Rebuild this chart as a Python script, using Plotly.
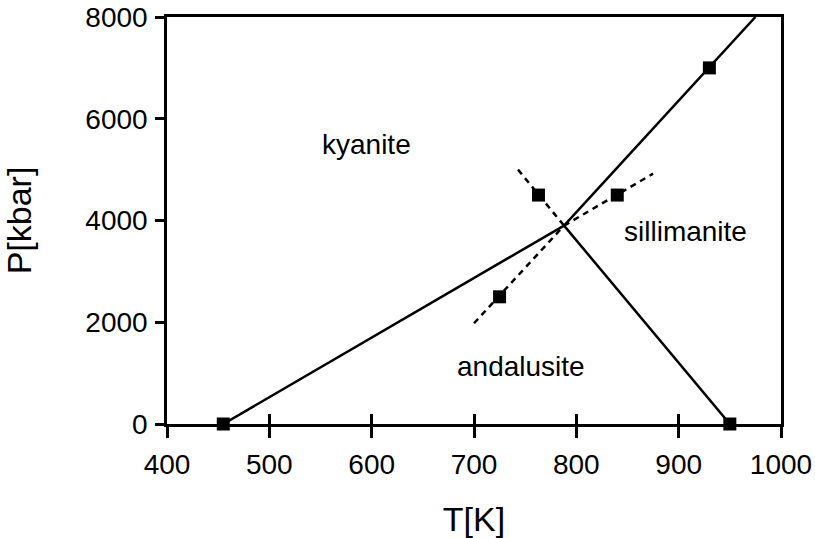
import plotly.graph_objects as go

# Data (T in K, P in kbar)
triple_T, triple_P = 788, 3900
ky_and_T = [455, triple_T]
ky_and_P = [0, triple_P]
and_sil_T = [triple_T, 950]
and_sil_P = [triple_P, 0]
ky_sil_T = [triple_T, 975]
ky_sil_P = [triple_P, 8000]

meta_ky_sil_T = [700, triple_T]
meta_ky_sil_P = [1980, triple_P]
meta_ky_and_T = [triple_T, 875]
meta_ky_and_P = [triple_P, 4920]
meta_and_sil_T = [743, triple_T]
meta_and_sil_P = [5000, triple_P]

pts_T = [455, 950, 930, 725, 763, 840]
pts_P = [0, 0, 7000, 2500, 4500, 4500]

labels = ["kyanite", "sillimanite", "andalusite"]
label_T = [595, 907, 746]
label_P = [5500, 3790, 1130]

x_ticks = [400, 500, 600, 700, 800, 900, 1000]
y_ticks = [0, 2000, 4000, 6000, 8000]

FONT = "Liberation Sans, Arial, sans-serif"
FS = 28
LW = 2.5

fig = go.Figure()
solid = dict(color="black", width=LW)
dashed = dict(color="black", width=LW, dash="6px,5px")
for xs, ys in [(ky_and_T, ky_and_P), (and_sil_T, and_sil_P), (ky_sil_T, ky_sil_P)]:
    fig.add_trace(go.Scatter(x=xs, y=ys, mode="lines", line=solid, showlegend=False, hoverinfo="skip"))
for xs, ys in [(meta_ky_sil_T, meta_ky_sil_P), (meta_ky_and_T, meta_ky_and_P), (meta_and_sil_T, meta_and_sil_P)]:
    fig.add_trace(go.Scatter(x=xs, y=ys, mode="lines", line=dashed, showlegend=False, hoverinfo="skip"))
fig.add_trace(go.Scatter(x=pts_T, y=pts_P, mode="markers", cliponaxis=False,
                         marker=dict(symbol="square", size=13, color="black"), showlegend=False))
# invisible trace on overlay axis for inside ticks
fig.add_trace(go.Scatter(x=[400, 1000], y=[0, 0], xaxis="x2", mode="markers",
                         marker=dict(opacity=0), showlegend=False, hoverinfo="skip"))

for t, x, y in zip(labels, label_T, label_P):
    fig.add_annotation(x=x, y=y, text=t, showarrow=False, xanchor="center", yanchor="middle",
                       font=dict(family=FONT, size=FS, color="black"))

fig.update_layout(
    width=815, height=538,
    margin=dict(l=167, r=34, t=17, b=114),
    plot_bgcolor="white", paper_bgcolor="white",
    font=dict(family=FONT, size=FS, color="black"),
    xaxis=dict(range=[400, 1000], tickvals=x_ticks, ticks="outside", ticklen=11, tickwidth=LW,
               tickcolor="black", showline=True, linewidth=LW, linecolor="black", mirror=True,
               showgrid=False, zeroline=False, automargin=False, ticklabelstandoff=3,
               title=dict(text="T[K]", standoff=36)),
    xaxis2=dict(range=[400, 1000], overlaying="x", anchor="y", side="bottom", tickvals=x_ticks,
                ticks="inside", ticklen=10, tickwidth=LW, tickcolor="black", showticklabels=False,
                showline=False, showgrid=False, zeroline=False, automargin=False),
    yaxis=dict(range=[0, 8000], tickvals=y_ticks, ticks="outside", ticklen=9, tickwidth=LW,
               tickcolor="black", showline=True, linewidth=LW, linecolor="black", mirror=True,
               showgrid=False, zeroline=False, automargin=False, ticklabelstandoff=2,
               title=dict(text="P[kbar]", standoff=45)),
)

fig.write_html("out.html", config={"displayModeBar": False},
               post_script="document.body.style.margin='0';")
